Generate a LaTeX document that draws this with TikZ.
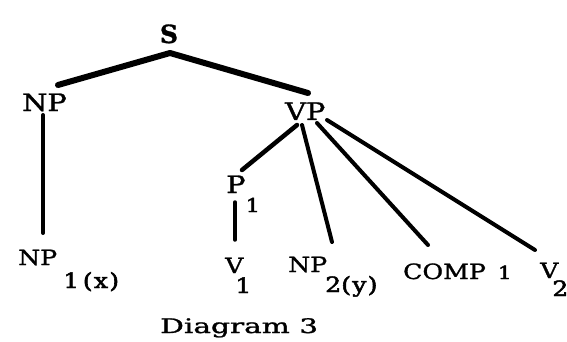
\documentclass[tikz,border=0pt]{standalone}
\usepackage{fontspec}
\usepackage{graphicx}
\newfontfamily\treefont[FakeBold=1.2]{DejaVu Serif}
\newfontfamily\subfont[FakeBold=2.2]{DejaVu Serif}
\newcommand\wideT[1]{\scalebox{1.2}[1]{#1}}
\newcommand\subT[1]{{\subfont\wideT{#1}}}
\tikzset{
  lbl/.style={anchor=base west, inner sep=0pt, font=\treefont\fontsize{21}{24}\selectfont},
  toplbl/.style={anchor=base west, inner sep=0pt, font=\treefont\fontsize{24}{28}\selectfont},
  thickbranch/.style={line width=6pt, line cap=round, line join=round},
  branch/.style={line width=4pt, line cap=round},
}
\begin{document}
\begin{tikzpicture}[x=1pt,y=1pt]
\useasboundingbox (0,0) rectangle (567,-342);
% labels
\node[anchor=base, inner sep=0pt, font=\treefont\bfseries\fontsize{25}{28}\selectfont] (S) at (169,-43) {S};
\node[toplbl] (NP) at (22,-111) {\wideT{NP}};
\node[toplbl] (VP) at (285,-120) {\wideT{VP}};
\node[toplbl] (P1) at (226,-193) {\wideT{P}\kern0pt\raisebox{-19pt}{\fontsize{19}{20}\selectfont\subT{1}}};
\node[lbl] (NP1) at (18,-265) {\wideT{NP}\kern6pt\raisebox{-23pt}{\subT{1\kern3pt(\kern1pt x\kern1pt)}}};
\node[lbl] (V1) at (225,-273) {\wideT{V}\kern-8pt\raisebox{-20pt}{\subT{1}}};
\node[lbl] (NP2) at (288,-272) {\wideT{NP}\kern-2pt\raisebox{-20pt}{\subT{2(\kern1pt y\kern1pt)}}};
\node[lbl] (COMP) at (403,-279) {\wideT{COMP}\kern12pt{\fontsize{18}{20}\selectfont\subT{1}}};
\node[lbl] (V2) at (540,-278) {\wideT{V}\kern-6pt\raisebox{-18pt}{\subT{2}}};
\node[anchor=base west, inner sep=0pt, font=\treefont\fontsize{20}{24}\selectfont] (cap) at (160,-333) {\scalebox{1.48}[1]{Diagram 3}};
% connector end points
\coordinate (S-b) at (170,-53);
\coordinate (NP-t) at (58,-85);
\coordinate (VP-t) at (308,-93);
\coordinate (NP-b) at (43,-115);
\coordinate (NP1-t) at (43,-233);
\coordinate (VP-b1) at (297,-125);
\coordinate (VP-b2) at (302,-125);
\coordinate (VP-b3) at (317,-123);
\coordinate (VP-b4) at (327,-120);
\coordinate (P1-t) at (242,-170);
\coordinate (P1-b) at (235,-202);
\coordinate (V1-t) at (235,-240);
\coordinate (NP2-t) at (332,-242);
\coordinate (COMP-t) at (428,-245);
\coordinate (V2-t) at (535,-250);
% connectors
\draw[thickbranch] (NP-t) -- (S-b) -- (VP-t);
\draw[branch] (NP-b) -- (NP1-t);
\draw[branch, line width=4.5pt] (VP-b1) -- (P1-t);
\draw[branch] (VP-b2) -- (NP2-t);
\draw[branch] (VP-b3) -- (COMP-t);
\draw[branch] (VP-b4) -- (V2-t);
\draw[branch, line width=3.5pt] (P1-b) -- (V1-t);
\end{tikzpicture}
\end{document}
